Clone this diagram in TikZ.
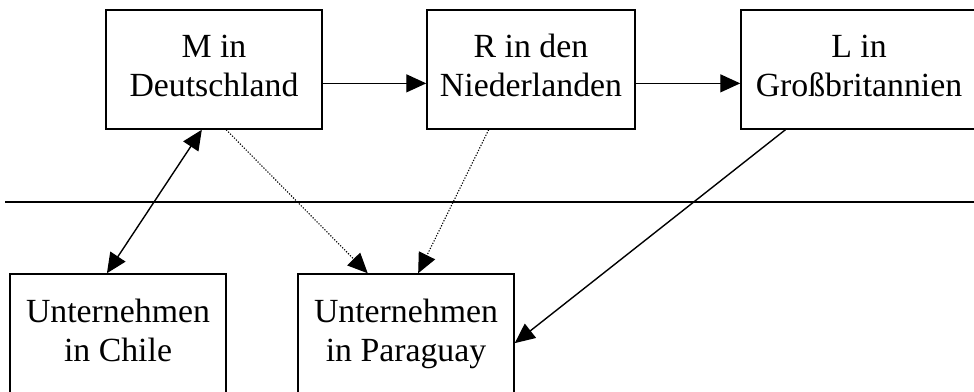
\documentclass[tikz,border=0pt]{standalone}
\usepackage{fontspec}
\setmainfont{Liberation Serif}
\usetikzlibrary{arrows.meta,calc}
\begin{document}
\begin{tikzpicture}[x=1pt,y=-1pt,
  frame/.style={draw, line width=1.5pt, inner sep=0pt, minimum width=#1},
  upper/.style={frame=#1, minimum height=119pt},
  lower/.style={frame=#1, minimum height=126pt},
  txt/.style={inner sep=0pt, align=center, anchor=north,
    font=\fontsize{33.8}{39}\selectfont},
  tip/.style={line width=1.4pt, -{Triangle[length=20pt,width=18pt]}},
  twotips/.style={line width=1.4pt, {Triangle[length=20pt,width=18pt]}-{Triangle[length=20pt,width=18pt]}},
  faint/.style={line width=1.1pt, dash pattern=on 1.2pt off 1.6pt, -{Triangle[length=20pt,width=18pt]}}
]
\useasboundingbox (0,0) rectangle (974,391);
\clip (0,0) rectangle (974,391);

% upper row
\node[upper=216pt] (m) at (214,69.5) {};
\node[upper=208pt] (r) at (531,69.5) {};
\node[upper=236pt] (l) at (859,69.5) {};
\node[txt] (mt) at ([yshift=-21.2pt]m.north) {\strut M in\\Deutschland};
\node[txt] (rt) at ([yshift=-21.2pt]r.north) {\strut R in den\\Niederlanden};
\node[txt] (lt) at ([yshift=-21.2pt]l.north) {\strut L in\\Großbritannien};

% lower row
\node[lower=216pt] (c) at (118,337) {};
\node[lower=216pt] (p) at (406,337) {};
\node[txt] (ct) at ([yshift=-21.8pt]c.north) {\strut Unternehmen\\in Chile};
\node[txt] (pt) at ([yshift=-21.8pt]p.north) {\strut Unternehmen\\in Paraguay};

% divider
\coordinate (dl) at (5,202);
\coordinate (dr) at (980,202);
\draw[line width=1.4pt] (dl) -- (dr);

% connectors
\draw[tip] ($(m.north east)!0.615!(m.south east)$) -- ($(r.north west)!0.615!(r.south west)$);
\draw[tip] ($(r.north east)!0.615!(r.south east)$) -- ($(l.north west)!0.615!(l.south west)$);
\draw[twotips] ($(m.south west)!0.444!(m.south east)$) -- ($(c.north west)!0.449!(c.north east)$);
\draw[faint] ($(m.south west)!0.556!(m.south east)$) -- ($(p.north west)!0.324!(p.north east)$);
\draw[faint] ($(r.south west)!0.298!(r.south east)$) -- ($(p.north west)!0.556!(p.north east)$);
\draw[tip] ($(l.south west)!0.19!(l.south east)$) -- ($(p.north east)!0.548!(p.south east)$);
\end{tikzpicture}
\end{document}
